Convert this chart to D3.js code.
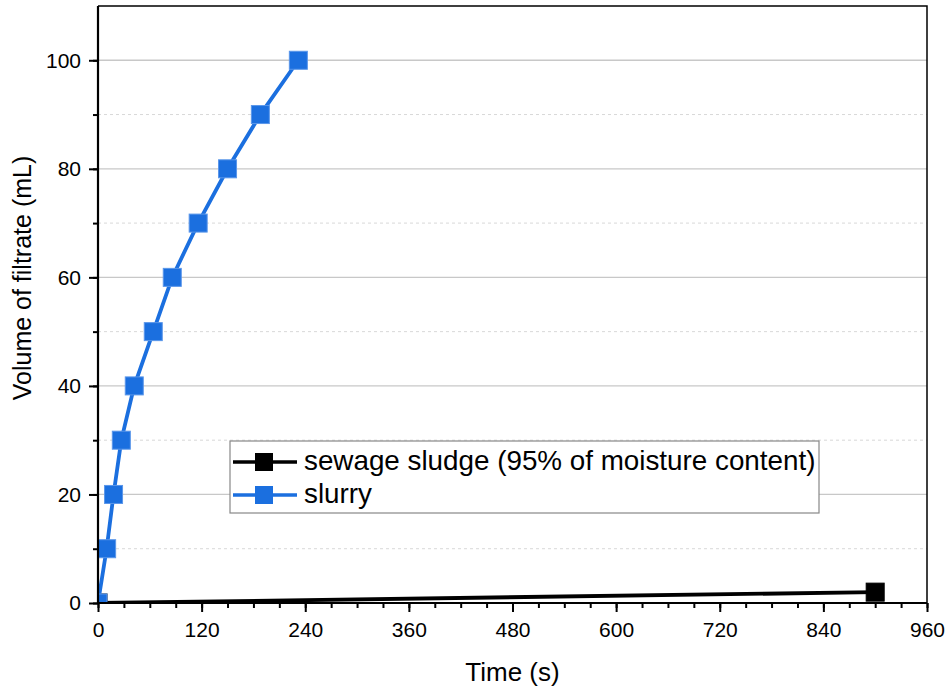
<!DOCTYPE html>
<html>
<head>
<meta charset="utf-8">
<script src="https://cdn.jsdelivr.net/npm/d3@7"></script>
<style>
  body { margin: 0; background: #fff; }
  text { font-family: Arial, "Liberation Sans", sans-serif; }
</style>
</head>
<body>
<div id="chart"></div>
<script>
// data
const slurry_time = [0, 10, 18, 27, 42, 64, 86, 116, 150, 188, 232];
const slurry_vol = [0, 10, 20, 30, 40, 50, 60, 70, 80, 90, 100];
const sludge_time = [0, 900];
const sludge_vol = [0, 2];
const series_names = ["sewage sludge (95% of moisture content)", "slurry"];
const series_colors = ["#000000", "#1b6fdf"];
const x_ticks = [0, 120, 240, 360, 480, 600, 720, 840, 960];
const y_ticks = [0, 20, 40, 60, 80, 100];

const width = 947, height = 688;
const margin = {left: 98, right: 20, top: 6, bottom: 85};

const svg = d3.select('#chart').append('svg').attr('width', width).attr('height', height);

const x = d3.scaleLinear().domain([0, 960]).range([margin.left, width - margin.right]);
const y = d3.scaleLinear().domain([0, 110]).range([height - margin.bottom, margin.top]);

// grid lines
svg.append('g').selectAll('line')
    .data(d3.range(10, 110, 10))
    .join('line')
    .attr('x1', x(0)).attr('x2', x(960))
    .attr('y1', d => y(d)).attr('y2', d => y(d))
    .style('stroke', d => d % 20 == 0 ? '#c8c8c8' : '#d8d8d8')
    .style('stroke-width', d => d % 20 == 0 ? 1.3 : 1)
    .style('stroke-dasharray', d => d % 20 == 0 ? null : '3,3');

// frame (top + right)
svg.append('path')
    .attr('d', `M${x(0)},${y(110)}H${x(960)}V${y(0)}`)
    .style('fill', 'none').style('stroke', '#000').style('stroke-width', 1.5);

// axes
const x_minor = svg.append('g').attr('transform', `translate(0,${y(0)})`)
    .call(d3.axisBottom(x).tickValues(d3.range(0, 961, 30)).tickSize(5).tickFormat(''));
const x_axis = svg.append('g').attr('transform', `translate(0,${y(0)})`)
    .call(d3.axisBottom(x).tickValues(x_ticks).tickSize(9).tickPadding(10));
const y_minor = svg.append('g').attr('transform', `translate(${x(0)},0)`)
    .call(d3.axisLeft(y).tickValues(d3.range(0, 101, 10)).tickSize(5).tickFormat(''));
const y_axis = svg.append('g').attr('transform', `translate(${x(0)},0)`)
    .call(d3.axisLeft(y).tickValues(y_ticks).tickSize(9).tickPadding(8));

for (const ax of [x_minor, x_axis, y_minor, y_axis]) {
    ax.select('.domain').remove();
    ax.selectAll('.tick line').style('stroke', '#000').style('stroke-width', 2);
}
x_axis.selectAll('text').style('font-size', '21px').style('fill', '#000');
y_axis.selectAll('text').style('font-size', '21px').style('fill', '#000');

// clip to plot area
svg.append('clipPath').attr('id', 'plot-clip')
    .append('rect').attr('x', x(0)).attr('y', y(110)).attr('width', x(960) - x(0)).attr('height', y(0) - y(110));

const plot = svg.append('g').attr('clip-path', 'url(#plot-clip)');

const series = [
    {name: series_names[0], color: series_colors[0], pts: sludge_time.map((t, i) => ({t: t, v: sludge_vol[i]}))},
    {name: series_names[1], color: series_colors[1], pts: slurry_time.map((t, i) => ({t: t, v: slurry_vol[i]}))}
];

const line = d3.line().x(d => x(d.t)).y(d => y(d.v));
const msize = 18;

for (const s of series) {
    plot.append('path')
        .attr('d', line(s.pts))
        .style('fill', 'none')
        .style('stroke', s.color)
        .style('stroke-width', 3.8);
    plot.selectAll(null)
        .data(s.pts)
        .join('rect')
        .attr('x', d => x(d.t) - msize / 2)
        .attr('y', d => y(d.v) - msize / 2)
        .attr('width', msize).attr('height', msize)
        .style('fill', s.color)
        .style('stroke', s.color == '#000000' ? '#000' : '#5a96ea')
        .style('stroke-width', 1);
}

// axis lines on top
svg.append('path')
    .attr('d', `M${x(0)},${y(110)}V${y(0)}H${x(960)}`)
    .style('fill', 'none').style('stroke', '#000').style('stroke-width', 2.2);

// axis titles
svg.append('text')
    .attr('x', (x(0) + x(960)) / 2).attr('y', 681)
    .attr('text-anchor', 'middle')
    .style('font-size', '26px')
    .text('Time (s)');
svg.append('text')
    .attr('transform', 'translate(31,278) rotate(-90)')
    .attr('text-anchor', 'middle')
    .style('font-size', '25px')
    .text('Volume of filtrate (mL)');

// legend
const legend = svg.append('g').attr('transform', 'translate(230,441)');
legend.append('rect')
    .attr('width', 589).attr('height', 72)
    .style('fill', '#fff').style('stroke', '#888').style('stroke-width', 1.2);
series.forEach((s, i) => {
    const row = legend.append('g').attr('transform', `translate(0,${21 + i * 33})`);
    row.append('line').attr('x1', 3).attr('x2', 67)
        .style('stroke', s.color).style('stroke-width', 3.5);
    row.append('rect').attr('x', 34 - 9).attr('y', -9).attr('width', 18).attr('height', 18)
        .style('fill', s.color);
    row.append('text').attr('x', 74).attr('y', 8)
        .style('font-size', '27.8px')
        .text(s.name);
});
</script>
</body>
</html>
